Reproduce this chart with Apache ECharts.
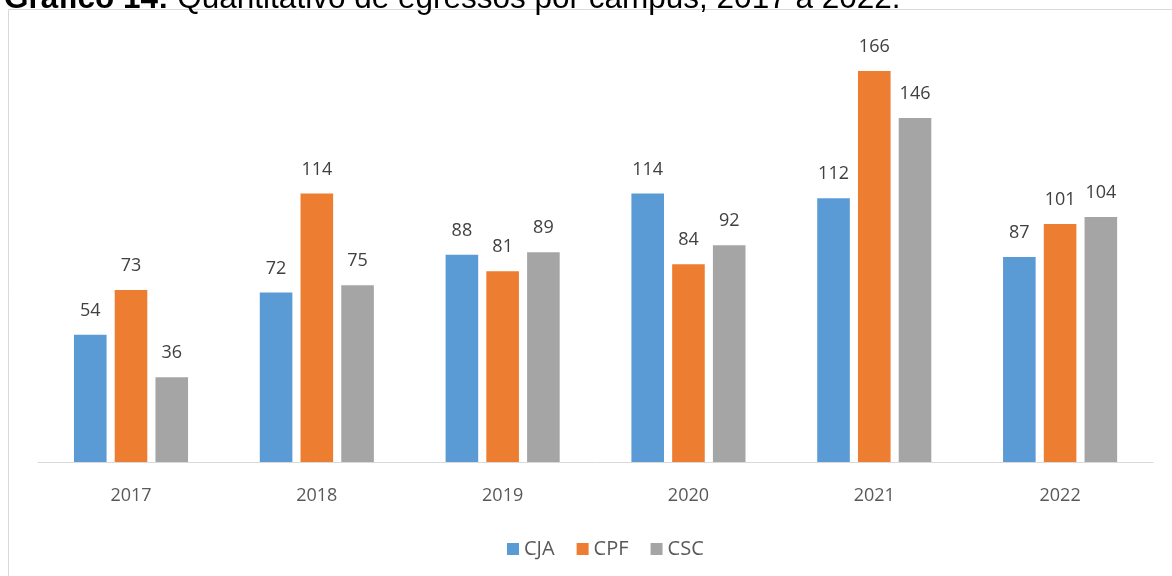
<!DOCTYPE html>
<html>
<head>
<meta charset="utf-8">
<script src="https://cdn.jsdelivr.net/npm/echarts@6/dist/echarts.min.js"></script>
<style>
html,body{margin:0;padding:0;background:#fff;}
#chart{width:1172px;height:576px;}
</style>
</head>
<body>
<div id="chart"></div>
<script>
var categories = ['2017', '2018', '2019', '2020', '2021', '2022'];
var seriesNames = ['CJA', 'CPF', 'CSC'];
var cja = [54, 72, 88, 114, 112, 87];
var cpf = [73, 114, 81, 84, 166, 101];
var csc = [36, 75, 89, 92, 146, 104];
var colors = ['#5b9bd5', '#ed7d31', '#a5a5a5'];

var chart = echarts.init(document.getElementById('chart'), null, {renderer: 'canvas'});
var fontFam = '"Open Sans", "Noto Sans", sans-serif';
var titleFont = '"Liberation Sans", Arial, sans-serif';
function bar(name, data, color) {
  return {
    name: name, type: 'bar', data: data,
    barGap: '25%', barCategoryGap: '38.6%',
    itemStyle: {color: color},
    label: {show: true, position: 'top', distance: 15, color: '#404040', fontSize: 18, fontFamily: fontFam},
    emphasis: {disabled: true}
  };
}
chart.setOption({
  animation: false,
  backgroundColor: '#fff',
  graphic: [
    {type: 'rect', shape: {x: 8.5, y: 9.5, width: 1200, height: 600}, style: {fill: 'none', stroke: '#d9d9d9', lineWidth: 1}, z: -1},
    {type: 'text', left: 4, top: -17, z: 10, style: {
      text: '{b|Gráfico 14:} Quantitativo de egressos por campus, 2017 a 2022.',
      fontSize: 31.5, fontFamily: titleFont, fill: '#000',
      rich: {b: {fontWeight: 'bold', fontSize: 31.5, fontFamily: titleFont, fill: '#000'}}
    }}
  ],
  grid: {left: 38.1, right: 19, top: 38, bottom: 114, containLabel: false},
  legend: {
    data: seriesNames, bottom: 12, left: 502, itemWidth: 12, itemHeight: 12, itemGap: 22,
    icon: 'rect', textStyle: {color: '#595959', fontSize: 20, fontFamily: fontFam}
  },
  xAxis: {
    type: 'category', data: categories,
    axisLine: {lineStyle: {color: '#d9d9d9', width: 1}},
    axisTick: {show: false},
    axisLabel: {color: '#595959', fontSize: 18, fontFamily: fontFam, margin: 25}
  },
  yAxis: {type: 'value', min: 0, max: 180, show: false, splitLine: {show: false}},
  series: [bar(seriesNames[0], cja, colors[0]), bar(seriesNames[1], cpf, colors[1]), bar(seriesNames[2], csc, colors[2])]
});
</script>
</body>
</html>
